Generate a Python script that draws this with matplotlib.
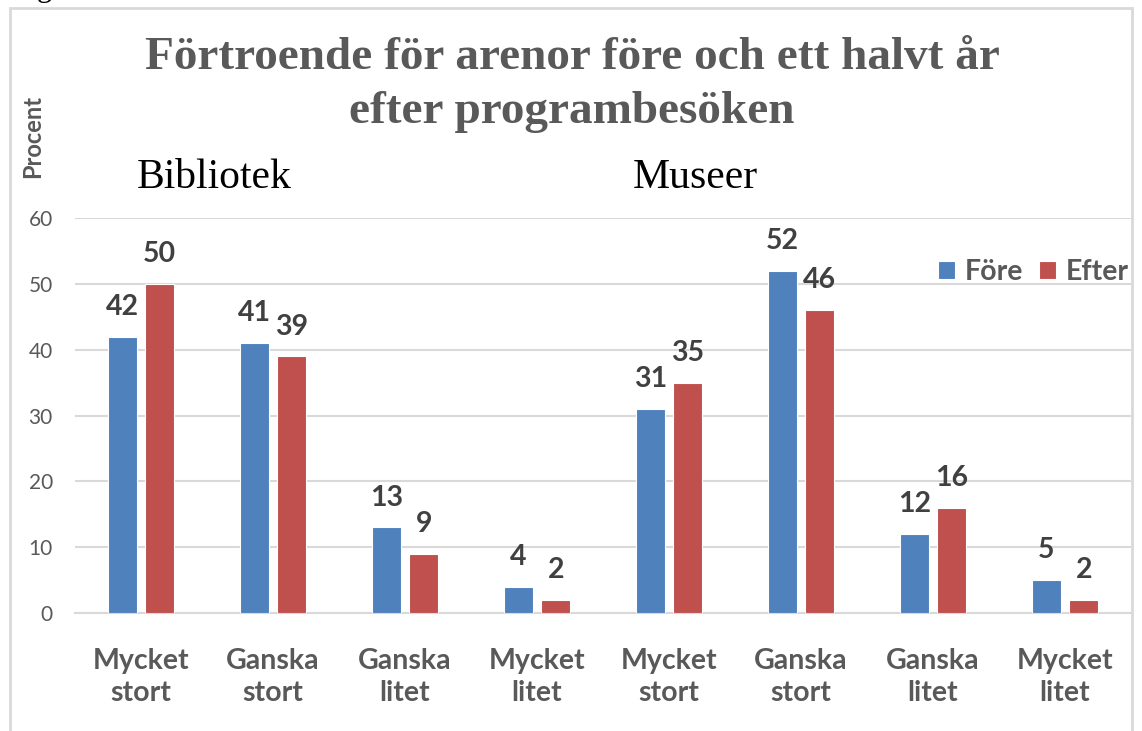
import numpy as np
import matplotlib.pyplot as plt
from matplotlib.patches import Rectangle

# categories and values
categories = ['Mycket\nstort', 'Ganska\nstort', 'Ganska\nlitet', 'Mycket\nlitet',
              'Mycket\nstort', 'Ganska\nstort', 'Ganska\nlitet', 'Mycket\nlitet']
fore = [42, 41, 13, 4, 31, 52, 12, 5]
efter = [50, 39, 9, 2, 35, 46, 16, 2]
series_names = ['Före', 'Efter']
yticks = [0, 10, 20, 30, 40, 50, 60]

blue = '#4F81BD'
red = '#C0504D'
grey = '#595959'
sans = 'Lato'
serif = 'Liberation Serif'

W, H = 1142, 731
fig = plt.figure(figsize=(W / 100, H / 100), dpi=100)

# outer chart border (bottom edge runs off the image)
fig.patches.append(Rectangle((10 / W, -0.05), 1122 / W, 1.05 - 8 / H,
                             transform=fig.transFigure, fill=False,
                             edgecolor='#d9d9d9', lw=2))
# leftover glyph from the document above the chart
fig.text(37 / W, 1 + 4 / H, 'g', family=serif, fontsize=22, va='baseline', color='black')

ax = fig.add_axes([75 / W, 1 - 613 / H, (1131 - 75) / W, (613 - 218) / H])

x = np.arange(len(categories))
w = 0.22
off = 0.142
b1 = ax.bar(x - off, fore, w, color=blue, edgecolor='white', lw=0.8, label=series_names[0], zorder=3)
b2 = ax.bar(x + off, efter, w, color=red, edgecolor='white', lw=0.8, label=series_names[1], zorder=3)

for bars in (b1, b2):
    for rect in bars:
        h = rect.get_height()
        ax.annotate(f'{h:g}', (rect.get_x() + rect.get_width() / 2, h),
                    xytext=(0, 12), textcoords='offset points', ha='center', va='bottom',
                    family=sans, fontweight='bold', fontsize=20.5, color='#404040')

ax.set_xlim(-0.5, len(categories) - 0.5)
ax.set_ylim(0, 60)
ax.set_yticks(yticks)
ax.set_xticks(x)
ax.set_xticklabels(categories, family=sans, fontweight='bold', fontsize=20.5,
                   color=grey, linespacing=1.3)
for lab in ax.get_yticklabels():
    lab.set_family(sans)
    lab.set_fontsize(15)
    lab.set_color(grey)
ax.tick_params(axis='both', length=0)
ax.tick_params(axis='x', pad=25)
ax.tick_params(axis='y', pad=16)

ax.grid(axis='y', color='#d9d9d9', lw=1.5, zorder=0)
for s in ['top', 'right', 'left']:
    ax.spines[s].set_visible(False)
ax.spines['bottom'].set_color('#d9d9d9')
ax.spines['bottom'].set_linewidth(1.5)

leg = ax.legend(loc='center right', bbox_to_anchor=(1129 / W, 1 - 272 / H),
                bbox_transform=fig.transFigure, ncol=2, frameon=False,
                handlelength=0.6, handleheight=0.6, handletextpad=0.35,
                columnspacing=0.55, borderaxespad=0, borderpad=0,
                prop={'family': sans, 'weight': 'bold', 'size': 20.5})
for t in leg.get_texts():
    t.set_color(grey)

fig.text(572 / W, 1 - 85 / H,
         'Förtroende för arenor före och ett halvt år\nefter programbesöken',
         ha='center', va='center', family=serif, fontweight='bold', fontsize=34,
         color=grey, linespacing=1.35)
fig.text(33 / W, 1 - 137 / H, 'Procent', rotation=90, ha='center', va='center',
         family=sans, fontweight='bold', fontsize=17, color=grey)
fig.text(137 / W, 1 - 178 / H, 'Bibliotek', ha='left', va='center',
         family=serif, fontsize=30, color='black')
fig.text(633 / W, 1 - 178 / H, 'Museer', ha='left', va='center',
         family=serif, fontsize=30, color='black')

plt.savefig('out.png', dpi=100)
